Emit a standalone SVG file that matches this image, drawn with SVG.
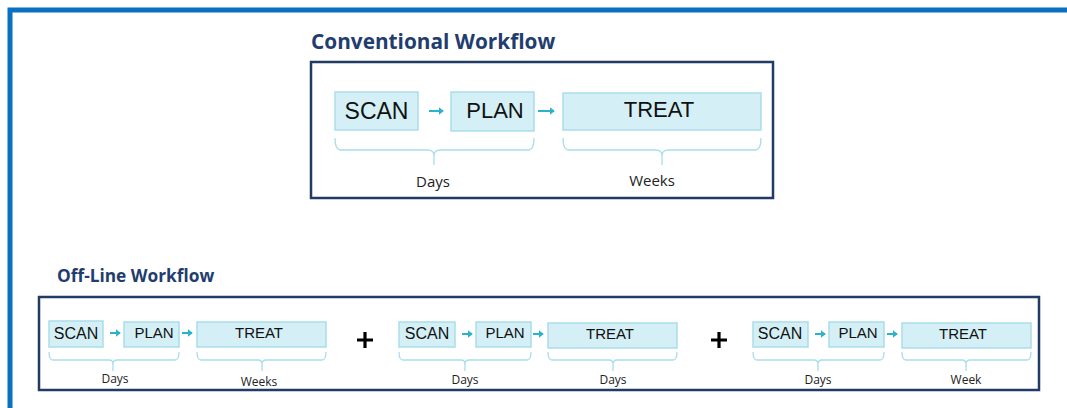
<svg xmlns="http://www.w3.org/2000/svg" width="1067" height="408" viewBox="0 0 1067 408">
<defs>
<marker id="ah" markerWidth="4" markerHeight="4" refX="2.2" refY="2" orient="auto" markerUnits="strokeWidth">
<path d="M0,0 L2.6,2 L0,4 Z" fill="#2AB3CB"/>
</marker>
<style>
.frame{fill:none;stroke:#0A70C2;stroke-width:5}
.panel{fill:#fff;stroke:#1F3B66;stroke-width:2.5}
.step{fill:#D4F0F6;stroke:#A9DEEA;stroke-width:1.5}
.conn{stroke:#2AB3CB;stroke-width:2;fill:none;marker-end:url(#ah)}
.brace{fill:none;stroke:#A9DEEA;stroke-width:1.3}
.title{font-family:"Open Sans",Lato,sans-serif;font-weight:bold;fill:#1F3D6E}
.lbl{font-family:"Liberation Sans",Arial,sans-serif;fill:#111}
.unit{font-family:"Open Sans",Lato,sans-serif;fill:#222}
.plus{stroke:#000;stroke-width:3.2}
</style>
</defs>
<rect width="1067" height="408" fill="#fff"/>
<rect class="frame" x="10" y="10" width="1100" height="500"/>

<text class="title" x="311" y="49" font-size="20.8">Conventional Workflow</text>
<rect class="panel" x="311" y="62" width="462" height="136"/>

<text class="title" x="57" y="282" font-size="17.3">Off-Line Workflow</text>
<rect class="panel" x="39" y="297" width="1000" height="93"/>

<!-- Conventional -->
<g id="conv-scan"><rect class="step" x="335" y="92" width="83" height="38"/><text class="lbl" x="376.5" y="119" font-size="23" text-anchor="middle">SCAN</text></g>
<g id="conv-plan"><rect class="step" x="451" y="92" width="83" height="39"/><text class="lbl" x="495" y="118" font-size="22" text-anchor="middle">PLAN</text></g>
<g id="conv-treat"><rect class="step" x="563" y="93" width="198" height="37"/><text class="lbl" x="659" y="117" font-size="22" text-anchor="middle">TREAT</text></g>
<g id="conv-days"><path class="brace" d="M335,138 Q335,150 341,150 H428 Q434,150 434,156 V165 M434,156 Q434,150 440,150 H528 Q534,150 534,138"/><text class="unit" x="433" y="187" font-size="15" text-anchor="middle">Days</text></g>
<g id="conv-weeks"><path class="brace" d="M563,138 Q563,150 569,150 H656 Q662,150 662,156 V165 M662,156 Q662,150 668,150 H755 Q761,150 761,138"/><text class="unit" x="652" y="186" font-size="15" text-anchor="middle">Weeks</text></g>

<!-- Offline group 1 -->
<g id="o1-scan"><rect class="step" x="49" y="321" width="54" height="26"/><text class="lbl" x="76" y="339" font-size="16" text-anchor="middle">SCAN</text></g>
<g id="o1-plan"><rect class="step" x="124" y="322" width="55" height="25"/><text class="lbl" x="154" y="338" font-size="15" text-anchor="middle">PLAN</text></g>
<g id="o1-treat"><rect class="step" x="197" y="322" width="129" height="25"/><text class="lbl" x="259" y="338" font-size="15" text-anchor="middle">TREAT</text></g>
<g id="o1-days"><path class="brace" d="M49,352 Q49,360 53,360 H109 Q113,360 113,364 V371 M113,364 Q113,360 117,360 H175 Q179,360 179,352"/><text class="unit" x="115" y="383" font-size="12" text-anchor="middle">Days</text></g>
<g id="o1-weeks"><path class="brace" d="M197,352 Q197,360 201,360 H258 Q262,360 262,364 V371 M262,364 Q262,360 266,360 H322 Q326,360 326,352"/><text class="unit" x="259" y="386" font-size="12" text-anchor="middle">Weeks</text></g>
<g id="plus1"><path class="plus" d="M357,340 H373 M365,332 V348"/></g>

<!-- Offline group 2 -->
<g id="o2-scan"><rect class="step" x="399" y="322" width="56" height="25"/><text class="lbl" x="427" y="339" font-size="16" text-anchor="middle">SCAN</text></g>
<g id="o2-plan"><rect class="step" x="476" y="322" width="55" height="25"/><text class="lbl" x="505" y="338" font-size="15" text-anchor="middle">PLAN</text></g>
<g id="o2-treat"><rect class="step" x="548" y="323" width="129" height="25"/><text class="lbl" x="610" y="339" font-size="15" text-anchor="middle">TREAT</text></g>
<g id="o2-days"><path class="brace" d="M399,352 Q399,360 403,360 H461 Q465,360 465,364 V371 M465,364 Q465,360 469,360 H527 Q531,360 531,352"/><text class="unit" x="465" y="384" font-size="12" text-anchor="middle">Days</text></g>
<g id="o2-days2"><path class="brace" d="M548,352 Q548,360 552,360 H609 Q613,360 613,364 V371 M613,364 Q613,360 617,360 H673 Q677,360 677,352"/><text class="unit" x="613" y="384" font-size="12" text-anchor="middle">Days</text></g>
<g id="plus2"><path class="plus" d="M711,340 H727 M719,332 V348"/></g>

<!-- Offline group 3 -->
<g id="o3-scan"><rect class="step" x="753" y="322" width="55" height="25"/><text class="lbl" x="780" y="339" font-size="16" text-anchor="middle">SCAN</text></g>
<g id="o3-plan"><rect class="step" x="829" y="322" width="55" height="25"/><text class="lbl" x="858" y="338" font-size="15" text-anchor="middle">PLAN</text></g>
<g id="o3-treat"><rect class="step" x="902" y="323" width="129" height="25"/><text class="lbl" x="963" y="339" font-size="15" text-anchor="middle">TREAT</text></g>
<g id="o3-days"><path class="brace" d="M753,352 Q753,360 757,360 H814 Q818,360 818,364 V371 M818,364 Q818,360 822,360 H880 Q884,360 884,352"/><text class="unit" x="818" y="384" font-size="12" text-anchor="middle">Days</text></g>
<g id="o3-week"><path class="brace" d="M902,352 Q902,360 906,360 H962 Q966,360 966,364 V371 M966,364 Q966,360 970,360 H1027 Q1031,360 1031,352"/><text class="unit" x="966" y="384" font-size="12" text-anchor="middle">Week</text></g>

<g id="connectors">
<line class="conn" x1="429" y1="111" x2="443" y2="111"/>
<line class="conn" x1="538" y1="111" x2="554" y2="111"/>
<line class="conn" x1="110" y1="333" x2="120" y2="333" stroke-width="1.6"/>
<line class="conn" x1="182" y1="333" x2="192" y2="333" stroke-width="1.6"/>
<line class="conn" x1="462" y1="334" x2="472" y2="334" stroke-width="1.6"/>
<line class="conn" x1="533" y1="334" x2="543" y2="334" stroke-width="1.6"/>
<line class="conn" x1="815" y1="334" x2="825" y2="334" stroke-width="1.6"/>
<line class="conn" x1="887" y1="334" x2="897" y2="334" stroke-width="1.6"/>
</g>
</svg>
